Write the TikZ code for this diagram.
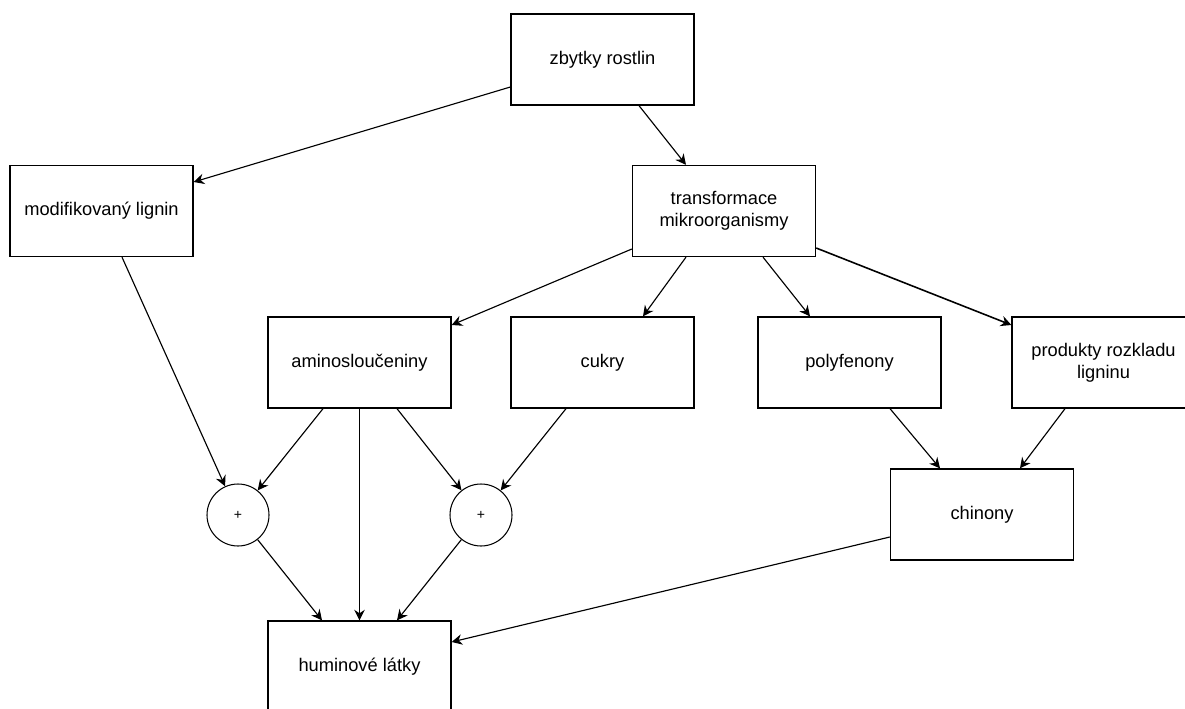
\documentclass[tikz,border=0pt]{standalone}
\usepackage{fontspec}
\setmainfont{Liberation Sans}
\usetikzlibrary{arrows.meta}

\begin{document}
\begin{tikzpicture}[
        box/.style={draw, line width=0.75pt, minimum width=3.66cm, minimum height=1.82cm, align=center, font=\fontsize{10.4}{12.5}\selectfont},
        kolo/.style={draw, circle, line width=0.6pt, minimum size=1.24cm, inner sep=0pt, font=\fontsize{8}{9}\selectfont},
        sipka/.style={-{Stealth[length=6pt,width=6pt,inset=2pt]}, line width=0.65pt}]
            \clip (0,0) rectangle (23.7,-14.18);
            % krabice
            \node[box] (zr) at (12.05,-1.19) {zbytky rostlin};
            \node[box] (ml) at (2.03,-4.22) {modifikovaný lignin};
            \node[box] (tm) at (14.48,-4.22) {transformace\\mikroorganismy};
            \node[box] (am) at (7.19,-7.25) {aminosloučeniny};
            \node[box] (cu) at (12.05,-7.25) {cukry};
            \node[box] (pf) at (16.99,-7.25) {polyfenony};
            \node[box] (pr) at (22.07,-7.25) {produkty rozkladu\\ligninu};
            \node[box] (ch) at (19.64,-10.29) {chinony};
            \node[kolo] (p1) at (4.76,-10.30) {+};
            \node[kolo] (p2) at (9.62,-10.30) {+};
            \node[box] (hl) at (7.19,-13.33) {huminové látky};
            % sipky
            \draw[sipka] ([yshift=-0.55cm]zr.west) -- ([yshift=0.58cm]ml.east);
            \draw[sipka] ([xshift=0.73cm]zr.south) -- ([xshift=-0.76cm]tm.north);
            \draw[sipka] ([yshift=-0.76cm]tm.west) -- ([yshift=0.75cm]am.east);
            \draw[sipka] ([xshift=-0.76cm]tm.south) -- ([xshift=0.81cm]cu.north);
            \draw[sipka] ([xshift=0.78cm]tm.south) -- ([xshift=-0.79cm]pf.north);
            \draw[sipka, line width=0.9pt] ([yshift=-0.74cm]tm.east) -- ([yshift=0.75cm]pr.west);
            \draw[sipka] ([xshift=0.41cm]ml.south) -- (p1);
            \draw[sipka] ([xshift=-0.73cm]am.south) -- (p1);
            \draw[sipka] (am.south) -- (hl.north);
            \draw[sipka] ([xshift=0.75cm]am.south) -- (p2);
            \draw[sipka] ([xshift=-0.73cm]cu.south) -- (p2);
            \draw[sipka] (p1) -- ([xshift=-0.75cm]hl.north);
            \draw[sipka] (p2) -- ([xshift=0.75cm]hl.north);
            \draw[sipka] ([xshift=0.81cm]pf.south) -- ([xshift=-0.84cm]ch.north);
            \draw[sipka] ([xshift=-0.77cm]pr.south) -- ([xshift=0.76cm]ch.north);
            \draw[sipka] ([yshift=-0.45cm]ch.west) -- ([yshift=0.49cm]hl.east);
        \end{tikzpicture}
\end{document}
